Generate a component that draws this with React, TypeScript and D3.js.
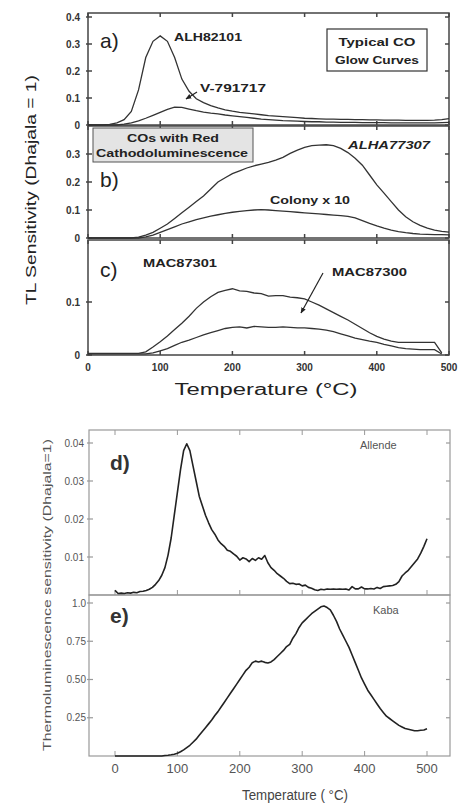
import React from 'react';
import * as d3 from 'd3';

// ---- upper figure (a-c): TL glow curves, temperature in °C ----
const tempsTop = [
  0, 10, 20, 30, 40, 50, 60, 70, 80, 90, 100, 110, 120, 130, 140, 150, 160, 170, 180, 190,
  200, 210, 220, 230, 240, 250, 260, 270, 280, 290, 300, 310, 320, 330, 340, 350, 360, 370, 380, 390,
  400, 410, 420, 430, 440, 450, 460, 470, 480, 490, 500,
];

const alh82101 = [
  0, 0, 0, 0.002, 0.008, 0.02, 0.05, 0.13, 0.25, 0.31, 0.33, 0.31, 0.25, 0.17, 0.125, 0.097, 0.083, 0.072, 0.063, 0.056,
  0.051, 0.047, 0.044, 0.041, 0.038, 0.035, 0.033, 0.031, 0.029, 0.027, 0.025, 0.024, 0.023, 0.022, 0.022, 0.021, 0.021, 0.02, 0.02, 0.019,
  0.019, 0.018, 0.018, 0.018, 0.017, 0.017, 0.017, 0.017, 0.018, 0.02, 0.024,
];
const v791717 = [
  0, 0, 0, 0, 0, 0.003, 0.008, 0.015, 0.025, 0.036, 0.047, 0.058, 0.066, 0.065, 0.059, 0.053, 0.048, 0.044, 0.041, 0.037,
  0.034, 0.031, 0.028, 0.025, 0.022, 0.02, 0.018, 0.016, 0.015, 0.014, 0.013, 0.012, 0.012, 0.011, 0.011, 0.01, 0.01, 0.01, 0.009, 0.009,
  0.009, 0.009, 0.008, 0.008, 0.008, 0.008, 0.008, 0.008, 0.008, 0.009, 0.01,
];
const alha77307 = [
  0, 0, 0, 0, 0, 0, 0, 0.003, 0.01, 0.02, 0.035, 0.05, 0.07, 0.09, 0.11, 0.13, 0.15, 0.175, 0.2, 0.215,
  0.23, 0.24, 0.25, 0.258, 0.264, 0.27, 0.278, 0.288, 0.302, 0.314, 0.324, 0.33, 0.332, 0.333, 0.33, 0.32, 0.305, 0.285, 0.26, 0.225,
  0.19, 0.16, 0.13, 0.1, 0.076, 0.058, 0.045, 0.035, 0.028, 0.024, 0.021,
];
const colonyX10 = [
  0, 0, 0, 0, 0, 0, 0, 0, 0.004, 0.01, 0.02, 0.03, 0.04, 0.05, 0.058, 0.066, 0.072, 0.078, 0.083, 0.088,
  0.092, 0.095, 0.098, 0.1, 0.101, 0.1, 0.098, 0.096, 0.094, 0.092, 0.09, 0.088, 0.086, 0.084, 0.082, 0.08, 0.077, 0.072, 0.062, 0.052,
  0.043, 0.035, 0.028, 0.023, 0.019, 0.016, 0.014, 0.013, 0.012, 0.012, 0.011,
];
const mac87301 = [
  0.003, 0.003, 0.003, 0.003, 0.003, 0.003, 0.003, 0.003, 0.006, 0.015, 0.025, 0.036, 0.048, 0.06, 0.073, 0.088, 0.1, 0.11, 0.118, 0.122,
  0.125, 0.121, 0.12, 0.117, 0.116, 0.111, 0.112, 0.112, 0.109, 0.108, 0.106, 0.1, 0.094, 0.087, 0.08, 0.073, 0.066, 0.058, 0.05, 0.042,
  0.035, 0.03, 0.026, 0.024, 0.024, 0.024, 0.024, 0.024, 0.024, 0.004,
];
const mac87300 = [
  0.002, 0.002, 0.002, 0.002, 0.002, 0.002, 0.002, 0.002, 0.002, 0.004, 0.008, 0.012, 0.018, 0.024, 0.028, 0.033, 0.038, 0.042, 0.046, 0.05,
  0.052, 0.053, 0.051, 0.054, 0.053, 0.052, 0.052, 0.053, 0.052, 0.051, 0.051, 0.05, 0.049, 0.047, 0.044, 0.04, 0.036, 0.032, 0.029, 0.026,
  0.024, 0.02, 0.017, 0.014, 0.012, 0.011, 0.01, 0.01, 0.01, 0.002,
];

const xTicksTop = [0, 100, 200, 300, 400, 500];
const yTicksA = [0, 0.1, 0.2, 0.3, 0.4];
const yTicksB = [0, 0.1, 0.2, 0.3];
const yTicksC = [0, 0.1];

// ---- lower figure (d-e): Allende and Kaba ----
const tempsBottom = [
  0, 5, 10, 15, 20, 25, 30, 35, 40, 45, 50, 55, 60, 65, 70, 75, 80, 85, 90, 95,
  100, 105, 110, 115, 120, 125, 130, 135, 140, 145, 150, 155, 160, 165, 170, 175, 180, 185, 190, 195,
  200, 205, 210, 215, 220, 225, 230, 235, 240, 245, 250, 255, 260, 265, 270, 275, 280, 285, 290, 295,
  300, 305, 310, 315, 320, 325, 330, 335, 340, 345, 350, 355, 360, 365, 370, 375, 380, 385, 390, 395,
  400, 405, 410, 415, 420, 425, 430, 435, 440, 445, 450, 455, 460, 465, 470, 475, 480, 485, 490, 495, 500,
];
const allende = [
  0.0012, 0.0004, 0.0005, 0.0004, 0.0006, 0.0005, 0.0007, 0.0006, 0.0009, 0.001, 0.0012, 0.0015, 0.002, 0.0028, 0.0038, 0.0052, 0.0072, 0.0105, 0.015, 0.021,
  0.027, 0.033, 0.038, 0.0398, 0.038, 0.034, 0.03, 0.026, 0.0235, 0.021, 0.019, 0.0172, 0.016, 0.0145, 0.0135, 0.0128, 0.0118, 0.0115, 0.0108, 0.0102,
  0.0092, 0.0098, 0.0095, 0.0088, 0.0096, 0.0091, 0.0098, 0.0094, 0.0104, 0.0085, 0.0072, 0.0065, 0.0056, 0.005, 0.0044, 0.0036, 0.003, 0.0031, 0.0028, 0.0029,
  0.0024, 0.0026, 0.002, 0.0018, 0.0014, 0.0012, 0.0015, 0.0014, 0.0016, 0.0015, 0.0016, 0.0015, 0.0016, 0.0015, 0.0016, 0.0013, 0.0022, 0.0016, 0.0016, 0.0021,
  0.0016, 0.0016, 0.0017, 0.0016, 0.002, 0.0017, 0.0022, 0.0023, 0.0024, 0.0025, 0.0028, 0.0035, 0.005, 0.0058, 0.0065, 0.0075, 0.0085, 0.0095, 0.011, 0.0128, 0.0148,
];
const kaba = [
  0, 0, 0, 0, 0, 0, 0, 0, 0, 0, 0, 0, 0, 0, 0, 0, 0.003, 0.005, 0.008, 0.012,
  0.018, 0.028, 0.04, 0.055, 0.07, 0.09, 0.11, 0.135, 0.16, 0.185, 0.21, 0.235, 0.265, 0.29, 0.32, 0.35, 0.38, 0.41, 0.44, 0.47,
  0.5, 0.53, 0.56, 0.58, 0.61, 0.62, 0.615, 0.62, 0.612, 0.608, 0.615, 0.63, 0.65, 0.67, 0.69, 0.715, 0.73, 0.77, 0.8, 0.84,
  0.87, 0.89, 0.91, 0.93, 0.945, 0.96, 0.975, 0.98, 0.97, 0.955, 0.92, 0.88, 0.83, 0.79, 0.75, 0.71, 0.66, 0.61, 0.56, 0.51,
  0.47, 0.43, 0.4, 0.37, 0.34, 0.31, 0.285, 0.26, 0.245, 0.23, 0.215, 0.2, 0.19, 0.18, 0.175, 0.17, 0.165, 0.165, 0.168, 0.17, 0.178,
];

const xTicksBottom = [0, 100, 200, 300, 400, 500];
const yTicksD = [0.01, 0.02, 0.03, 0.04];
const yTicksE = [0.25, 0.5, 0.75, 1.0];
const yTickLabelsE = ['0.25', '0.50', '0.75', '1.0'];

const FONT = '"Liberation Sans", Arial, sans-serif';

const topX = d3.scaleLinear().domain([0, 500]).range([88, 449]);
const botX = d3.scaleLinear().domain([0, 500]).range([115, 427]);
const botFrameX = d3.scaleLinear().domain([-42, 537]).range([89, 450]);

const linePath = (temps: number[], vals: number[], x: any, y: any) =>
  d3.line<number>()
    .x((_, i) => x(temps[i]))
    .y(d => y(d))(vals) as string;

// one panel frame with inward ticks on all four sides
const Frame = ({ x, y, top, bottom, xTicks, yTicks, color, width, tick }: any) => {
  const [left, right] = x.range();
  return (
    <g stroke={color} strokeWidth={width} fill="none">
      <rect x={left} y={top} width={right - left} height={bottom - top} />
      {xTicks.map((t: number) => (
        <g key={'x' + t}>
          <line x1={x(t)} x2={x(t)} y1={bottom} y2={bottom - tick} />
          <line x1={x(t)} x2={x(t)} y1={top} y2={top + tick} />
        </g>
      ))}
      {yTicks.map((t: number) => (
        <g key={'y' + t}>
          <line x1={left - 2} x2={left + tick} y1={y(t)} y2={y(t)} />
          <line x1={right} x2={right - tick} y1={y(t)} y2={y(t)} />
        </g>
      ))}
    </g>
  );
};

const TopFigure = () => {
  const yA = d3.scaleLinear().domain([0, 0.4]).range([125, 17]);
  const yB = d3.scaleLinear().domain([0, 0.4]).range([238, 126]);
  const yC = d3.scaleLinear().domain([0, 0.1]).range([355, 302]);
  const lc = '#333';
  const tickLabel = { fontFamily: FONT, fontSize: 10, fontWeight: 700, fill: '#333' } as const;
  const lab = { fontFamily: FONT, fontSize: 11.5, fontWeight: 700, fill: '#222' } as const;
  const panels = [
    { y: yA, top: 13, bottom: 125, ticks: yTicksA },
    { y: yB, top: 126, bottom: 238, ticks: yTicksB },
    { y: yC, top: 240, bottom: 355, ticks: yTicksC },
  ];
  return (
    <g>
      {panels.map((p, i) => (
        <g key={i}>
          <Frame x={topX} y={p.y} top={p.top} bottom={p.bottom} xTicks={xTicksTop}
            yTicks={p.ticks} color="#444" width={1.5} tick={4} />
          {p.ticks.map(t => (
            <text key={t} x={80} y={p.y(t) + 3.5} textAnchor="end" {...tickLabel}>{t === 0 ? '0' : String(t)}</text>
          ))}
        </g>
      ))}
      <g fill="none" stroke={lc} strokeWidth={1.3}>
        <path d={linePath(tempsTop, alh82101, topX, yA)} />
        <path d={linePath(tempsTop, v791717, topX, yA)} />
        <path d={linePath(tempsTop, alha77307, topX, yB)} />
        <path d={linePath(tempsTop, colonyX10, topX, yB)} />
        <path d={linePath(tempsTop.slice(0, mac87301.length), mac87301, topX, yC)} />
        <path d={linePath(tempsTop.slice(0, mac87300.length), mac87300, topX, yC)} />
      </g>
      {xTicksTop.map(t => (
        <text key={t} x={topX(t)} y={371} textAnchor="middle" {...tickLabel}>{t}</text>
      ))}
      {/* panel labels */}
      <text x={100} y={48} fontFamily={FONT} fontSize={21} fill="#222">a)</text>
      <text x={100} y={187} fontFamily={FONT} fontSize={21} fill="#222">b)</text>
      <text x={100} y={277} fontFamily={FONT} fontSize={21} fill="#222">c)</text>
      <text x={174} y={41} {...lab} textLength={68} lengthAdjust="spacingAndGlyphs">ALH82101</text>
      <text x={200} y={92} {...lab} textLength={66} lengthAdjust="spacingAndGlyphs">V-791717</text>
      <line x1={197} y1={92} x2={186} y2={99} stroke="#222" strokeWidth={1.2} markerEnd="url(#arrow)" />
      <rect x={327} y={29} width={100} height={42} fill="none" stroke="#333" strokeWidth={1.2} />
      <text x={377} y={46} textAnchor="middle" {...lab} textLength={77} lengthAdjust="spacingAndGlyphs">Typical CO</text>
      <text x={377} y={64} textAnchor="middle" {...lab} textLength={84} lengthAdjust="spacingAndGlyphs">Glow Curves</text>
      <rect x={93} y={128} width={160} height={34} fill="#e4e4e4" stroke="#555" strokeWidth={1} />
      <text x={173} y={142} textAnchor="middle" {...lab} textLength={92} lengthAdjust="spacingAndGlyphs">COs with Red</text>
      <text x={172} y={157} textAnchor="middle" {...lab} textLength={152} lengthAdjust="spacingAndGlyphs">Cathodoluminescence</text>
      <text x={348} y={149} {...lab} fontStyle="italic" textLength={82} lengthAdjust="spacingAndGlyphs">ALHA77307</text>
      <text x={270} y={204} {...lab} textLength={80} lengthAdjust="spacingAndGlyphs">Colony x 10</text>
      <text x={143} y={267} {...lab} textLength={74} lengthAdjust="spacingAndGlyphs">MAC87301</text>
      <text x={332} y={276} {...lab} textLength={75} lengthAdjust="spacingAndGlyphs">MAC87300</text>
      <line x1={323} y1={273} x2={301} y2={313} stroke="#222" strokeWidth={1.2} markerEnd="url(#arrow)" />
      {/* axis titles */}
      <text x={266} y={395} textAnchor="middle" fontFamily={FONT} fontSize={16} fill="#222"
        textLength={183} lengthAdjust="spacingAndGlyphs">Temperature (°C)</text>
      <text transform="translate(36,190) rotate(-90)" textAnchor="middle" fontFamily={FONT} fontSize={15}
        fill="#222" textLength={230} lengthAdjust="spacingAndGlyphs">TL Sensitivity (Dhajala = 1)</text>
    </g>
  );
};

const BottomFigure = () => {
  const yD = d3.scaleLinear().domain([0, 0.04]).range([595, 443]);
  const yE = d3.scaleLinear().domain([0, 1]).range([756, 603]);
  const tickLabel = { fontFamily: FONT, fontSize: 10, fill: '#555' } as const;
  return (
    <g>
      <Frame x={botFrameX} y={yD} top={430} bottom={595}
        xTicks={[]} yTicks={yTicksD} color="#999" width={1.2} tick={4} />
      <Frame x={botFrameX} y={yE} top={595} bottom={756}
        xTicks={[]} yTicks={yTicksE} color="#999" width={1.2} tick={4} />
      <g stroke="#999" strokeWidth={1}>
        {xTicksBottom.map(t => (
          <g key={t}>
            <line x1={botX(t)} x2={botX(t)} y1={756} y2={751} />
            <line x1={botX(t)} x2={botX(t)} y1={595} y2={590} />
            <line x1={botX(t)} x2={botX(t)} y1={430} y2={435} />
          </g>
        ))}
      </g>
      {yTicksD.map(t => (
        <text key={t} x={84} y={yD(t) + 3.5} textAnchor="end" {...tickLabel}>{String(t)}</text>
      ))}
      {yTicksE.map((t, i) => (
        <text key={t} x={86} y={yE(t) + 3.5} textAnchor="end" {...tickLabel}>{yTickLabelsE[i]}</text>
      ))}
      <g fill="none" stroke="#222" strokeWidth={1.6} strokeLinejoin="round">
        <path d={linePath(tempsBottom, allende, botX, yD)} />
        <path d={linePath(tempsBottom, kaba, botX, yE)} />
      </g>
      {xTicksBottom.map(t => (
        <text key={t} x={botX(t)} y={773} textAnchor="middle" fontFamily={FONT} fontSize={13} fill="#555">{t}</text>
      ))}
      <text x={110} y={470} fontFamily={FONT} fontSize={21} fontWeight={700} fill="#333">d)</text>
      <text x={110} y={623} fontFamily={FONT} fontSize={21} fontWeight={700} fill="#333">e)</text>
      <text x={360} y={449} fontFamily={FONT} fontSize={11} fill="#555">Allende</text>
      <text x={373} y={614} fontFamily={FONT} fontSize={11} fill="#555">Kaba</text>
      <text x={295} y={800} textAnchor="middle" fontFamily={FONT} fontSize={14} fill="#444"
        textLength={106} lengthAdjust="spacingAndGlyphs">Temperature ( °C)</text>
      <text transform="translate(51,595) rotate(-90)" textAnchor="middle" fontFamily={FONT} fontSize={11}
        fill="#555" textLength={312} lengthAdjust="spacingAndGlyphs">Thermoluminescence sensitivity (Dhajala=1)</text>
    </g>
  );
};

export default function App() {
  return (
    <div style={{ position: 'absolute', left: 0, top: 0, width: 461, height: 805, background: '#fff' }}>
      <svg width={461} height={805}>
        <defs>
          <marker id="arrow" viewBox="0 0 10 10" refX={9} refY={5} markerWidth={5} markerHeight={5} orient="auto">
            <path d="M0,1 L10,5 L0,9 z" fill="#222" />
          </marker>
        </defs>
        <TopFigure />
        <BottomFigure />
      </svg>
    </div>
  );
}
